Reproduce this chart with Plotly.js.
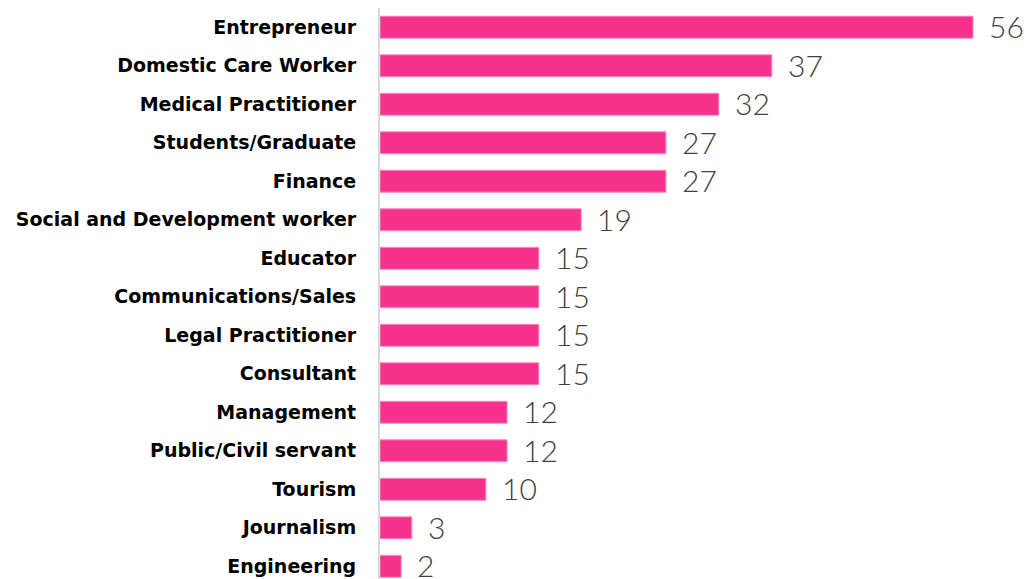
<!DOCTYPE html>
<html>
<head>
<meta charset="utf-8">
<script src="https://cdn.plot.ly/plotly-3.0.1.min.js"></script>
<style>html,body{margin:0;padding:0;background:#fff;}#chart{width:1027px;height:579px;}</style>
</head>
<body>
<div id="chart"></div>
<script>
const categories = ["Entrepreneur","Domestic Care Worker","Medical Practitioner","Students/Graduate","Finance","Social and Development worker","Educator","Communications/Sales","Legal Practitioner","Consultant","Management","Public/Civil servant","Tourism","Journalism","Engineering"];
const values = [56,37,32,27,27,19,15,15,15,15,12,12,10,3,2];

const trace = {
  type: 'bar',
  orientation: 'h',
  x: values,
  y: categories,
  marker: {color: '#F7328E', line: {color: '#F98BBE', width: 1}},
  width: 0.57,
  hoverinfo: 'none'
};

const annotations = values.map((v, i) => ({
  x: v, y: categories[i], xref: 'x', yref: 'y',
  text: String(v), showarrow: false, xanchor: 'left', yanchor: 'middle',
  xshift: 14, yshift: 1,
  font: {family: 'Lato', size: 30, color: '#404040', weight: 300}
}));
annotations.push({
  xref: 'paper', yref: 'paper', x: 0.415, y: -0.02, xanchor: 'center', yanchor: 'top',
  text: '6', showarrow: false, font: {family: 'DejaVu Sans', size: 34, color: '#000', weight: 'bold'}
});

const layout = {
  width: 1027, height: 579,
  margin: {l: 380, r: 0, t: 8, b: 0, pad: 0},
  paper_bgcolor: '#fff', plot_bgcolor: '#fff',
  showlegend: false,
  xaxis: {range: [0, 61.1], visible: false, fixedrange: true},
  yaxis: {
    type: 'category', categoryorder: 'array', categoryarray: categories,
    range: [14.33, -0.5],
    showline: true, linecolor: '#D9D9D9', linewidth: 2,
    showgrid: false, zeroline: false, ticks: '',
    ticklabelstandoff: 18,
    tickfont: {family: 'DejaVu Sans', size: 19, color: '#000', weight: 'bold'}
  },
  annotations: annotations
};

Plotly.newPlot('chart', [trace], layout, {displayModeBar: false, staticPlot: true});
</script>
</body>
</html>
